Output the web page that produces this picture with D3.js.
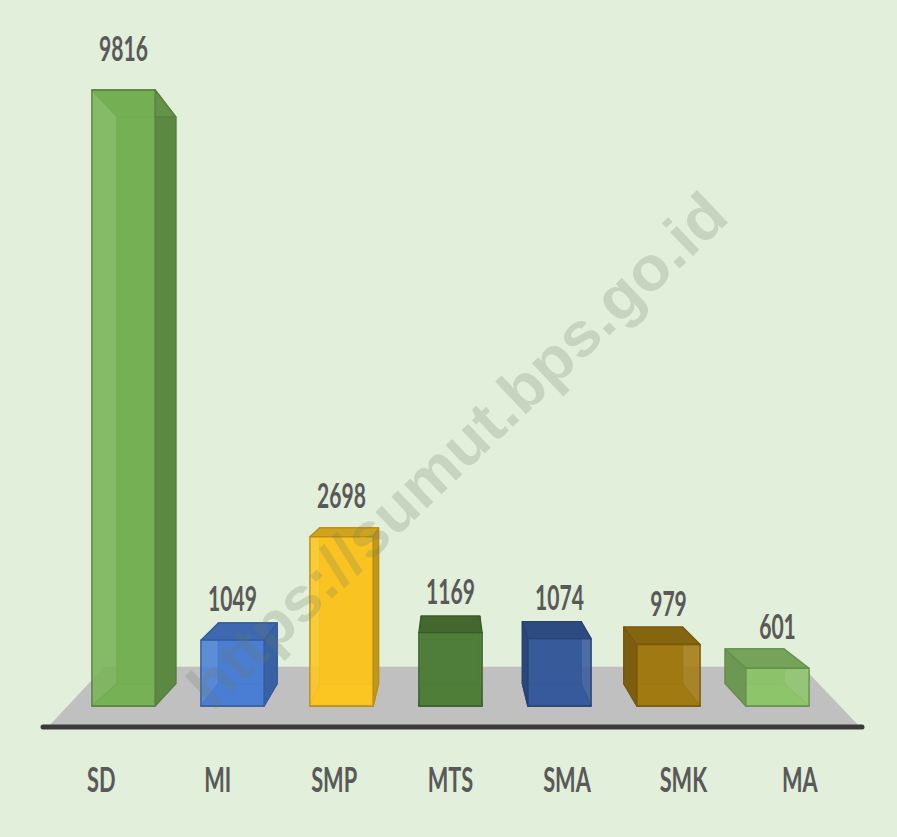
<!DOCTYPE html>
<html>
<head>
<meta charset="utf-8">
<script src="https://cdn.jsdelivr.net/npm/d3@7"></script>
<style>
  html, body { margin: 0; padding: 0; background: #e2efda; }
  svg { display: block; }
</style>
</head>
<body>
<div id="chart"></div>
<script>
// data
const categories = ["SD", "MI", "SMP", "MTS", "SMA", "SMK", "MA"];
const values = [9816, 1049, 2698, 1169, 1074, 979, 601];
const barColors = ["#78b356", "#4b80d6", "#fdc622", "#507f3a", "#385b9d", "#a37b12", "#8ec66c"];
const watermark = "https://sumut.bps.go.id";

// set the dimensions of the graph
const width = 897, height = 837;

const svg = d3.select("#chart")
  .append("svg")
  .attr("width", width)
  .attr("height", height);

svg.append("rect")
  .attr("width", width)
  .attr("height", height)
  .attr("fill", "#e2efda");

// scales for the front plane of the bars
const x = d3.scaleBand()
  .domain(categories)
  .range([69, 832])
  .paddingInner(0.42)
  .paddingOuter(0.21);

const y = d3.scaleLinear()
  .domain([0, d3.max(values)])
  .range([706, 90]);

// perspective: points pushed back towards a vanishing point
const VX = 450, VY = 426;
function back(p, kx, ky) {
  return [p[0] + kx * (VX - p[0]), p[1] + ky * (VY - p[1])];
}
const bk = p => back(p, 0.07, 0.08);

// floor
const floorL = 48, floorR = 860, floorY = 727;
const floorPts = [[floorL, floorY], [floorR, floorY],
  back([floorR, floorY], 0.14, 0.2), back([floorL, floorY], 0.14, 0.2)];
svg.append("polygon")
  .attr("points", floorPts.map(p => p.join(",")).join(" "))
  .attr("fill", "#c0c0c0");

svg.append("line")
  .attr("x1", 43).attr("x2", 862)
  .attr("y1", floorY).attr("y2", floorY)
  .attr("stroke", "#3a3a3a")
  .attr("stroke-width", 5)
  .attr("stroke-linecap", "round");

// bars
const bars = svg.append("g");
categories.forEach(function (c, i) {
  const x0 = x(c), x1 = x(c) + x.bandwidth();
  const yt = y(values[i]), yb = y(0);
  const fTL = [x0, yt], fTR = [x1, yt], fBR = [x1, yb], fBL = [x0, yb];
  const bTL = bk(fTL), bTR = bk(fTR), bBR = bk(fBR), bBL = bk(fBL);
  const col = d3.color(barColors[i]);
  const edge = col.darker(0.9).formatHex();
  const g = bars.append("g")
    .attr("stroke", edge)
    .attr("stroke-width", 1.4)
    .attr("stroke-linejoin", "round");
  const poly = (pts, fill, op) => g.append("polygon")
    .attr("points", pts.map(p => p.join(",")).join(" "))
    .attr("fill", fill)
    .attr("fill-opacity", op);

  // bottom and back face
  poly([fBL, fBR, bBR, bBL], col.darker(0.2).formatHex(), 1);
  poly([bTL, bTR, bBR, bBL], col.darker(0.35).formatHex(), 1);
  // side facing the centre
  const cx = x0 + x.bandwidth() / 2;
  if (cx < VX - 5) poly([fTR, bTR, bBR, fBR], col.darker(0.75).formatHex(), 1);
  if (cx > VX + 5) poly([fTL, bTL, bBL, fBL], col.darker(0.75).formatHex(), 1);
  // top
  poly([fTL, fTR, bTR, bTL], col.darker(0.55).formatHex(), 1);
  // front face, a bit see-through
  poly([fTL, fTR, fBR, fBL], col.formatHex(), 0.88);
});

// value labels
svg.append("g")
  .selectAll("text")
  .data(categories)
  .join("text")
  .attr("transform", (d, i) =>
    `translate(${x(d) + x.bandwidth() / 2}, ${y(values[i]) - 29}) scale(0.62, 1)`)
  .attr("text-anchor", "middle")
  .attr("font-family", "Lato, 'Open Sans', sans-serif")
  .attr("font-weight", 700)
  .attr("font-size", 34)
  .attr("fill", "#595959")
  .text((d, i) => values[i]);

// category labels, spread on the floor's front edge
svg.append("g")
  .selectAll("text")
  .data(categories)
  .join("text")
  .attr("transform", d =>
    `translate(${VX + (x(d) + x.bandwidth() / 2 - VX) * 1.068}, 792) scale(0.64, 1)`)
  .attr("text-anchor", "middle")
  .attr("font-family", "Lato, 'Open Sans', sans-serif")
  .attr("font-weight", 700)
  .attr("font-size", 34)
  .attr("fill", "#595959")
  .text(d => d);

// watermark
svg.append("text")
  .attr("transform", "translate(457, 450) rotate(-43.5)")
  .attr("text-anchor", "middle")
  .attr("dominant-baseline", "central")
  .attr("font-family", "'Liberation Sans', Arial, sans-serif")
  .attr("font-weight", 700)
  .attr("font-size", 62)
  .attr("textLength", 715)
  .attr("lengthAdjust", "spacingAndGlyphs")
  .attr("fill", "#6b7b66")
  .attr("fill-opacity", 0.22)
  .text(watermark);
</script>
</body>
</html>
